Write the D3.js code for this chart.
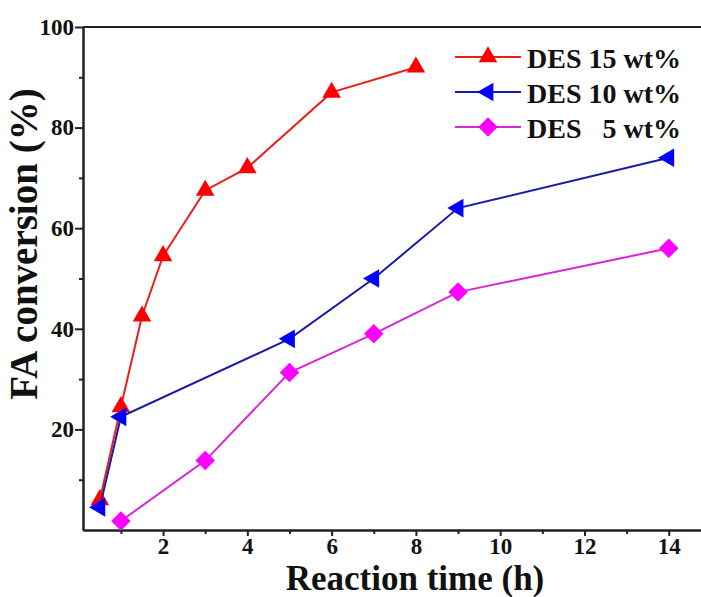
<!DOCTYPE html>
<html>
<head>
<meta charset="utf-8">
<script src="https://cdn.jsdelivr.net/npm/d3@7"></script>
<style>
  body { margin: 0; background: #fff; }
  text { font-family: "Liberation Serif", "Times New Roman", serif; font-weight: bold; }
</style>
</head>
<body>
<div id="container"></div>
<script>
/* DATA */
const seriesNames = ["DES 15 wt%", "DES 10 wt%", "DES\u00a0\u00a0\u00a05 wt%"];
const time15 = [0.5, 1, 1.5, 2, 3, 4, 6, 8];
const des15 = [6, 24.5, 42.5, 54.5, 67.5, 72, 87, 92];
const time10 = [0.5, 1, 5, 7, 9, 14];
const des10 = [4.5, 22.5, 38, 50, 64, 74];
const time5 = [1, 3, 5, 7, 9, 14];
const des5 = [1.8, 13.8, 31.3, 39, 47.3, 56];
const xTicks = [2, 4, 6, 8, 10, 12, 14];
const yTicks = [20, 40, 60, 80, 100];

/* CONSTANTS */
const width = 701;
const height = 597;
const marginLeft = 83, marginTop = 27, axisBottom = 530;

const series = [
  { name: seriesNames[0], x: time15, y: des15, line: "#e8201c", fill: "#ff0000", shape: "up" },
  { name: seriesNames[1], x: time10, y: des10, line: "#1a1aa6", fill: "#0000ff", shape: "left" },
  { name: seriesNames[2], x: time5, y: des5, line: "#d626d6", fill: "#ff00ff", shape: "diamond" }
];

/* SCALES */
const xScale = d3.scaleLinear().domain([0.1, 15]).range([marginLeft, marginLeft + 14.9 * 42.14]);
const yScale = d3.scaleLinear().domain([0, 100]).range([axisBottom, marginTop]);

const svg = d3.select("#container")
  .append("svg")
  .attr("width", width)
  .attr("height", height);

/* AXES */
const xAxis = d3.axisBottom(xScale)
  .tickValues(xTicks)
  .tickSize(6)
  .tickSizeOuter(0)
  .tickPadding(2);
const xMinor = d3.axisBottom(xScale)
  .tickValues(d3.range(1, 15, 2))
  .tickSize(4)
  .tickSizeOuter(0)
  .tickFormat("");

const yAxis = d3.axisLeft(yScale)
  .tickValues(yTicks)
  .tickSize(8)
  .tickSizeOuter(0)
  .tickPadding(1);
const yMinor = d3.axisLeft(yScale)
  .tickValues(d3.range(10, 100, 20))
  .tickSize(4)
  .tickSizeOuter(0)
  .tickFormat("");

const gx = svg.append("g").attr("transform", `translate(0,${axisBottom})`).call(xAxis);
const gxm = svg.append("g").attr("transform", `translate(0,${axisBottom})`).call(xMinor);
const gy = svg.append("g").attr("transform", `translate(${marginLeft},0)`).call(yAxis);
const gym = svg.append("g").attr("transform", `translate(${marginLeft},0)`).call(yMinor);
gxm.selectAll("text").remove();
gym.selectAll("text").remove();

svg.selectAll(".domain, .tick line").attr("stroke", "#222").attr("stroke-width", 2);
gx.selectAll(".tick text").attr("font-size", 23).attr("fill", "#111");
gy.selectAll(".tick text").attr("font-size", 23).attr("fill", "#111");

// top frame line
svg.append("line")
  .attr("x1", marginLeft).attr("x2", width)
  .attr("y1", yScale(100)).attr("y2", yScale(100))
  .attr("stroke", "#222").attr("stroke-width", 2);

/* TITLES */
svg.append("text")
  .attr("x", 415).attr("y", 590)
  .attr("text-anchor", "middle")
  .attr("font-size", 35)
  .attr("fill", "#111")
  .text("Reaction time (h)");

svg.append("text")
  .attr("transform", "translate(37,244) rotate(-90)")
  .attr("text-anchor", "middle")
  .attr("font-size", 39)
  .attr("fill", "#111")
  .text("FA conversion (%)");

/* MARKERS */
const tri = d3.symbol().type(d3.symbolTriangle).size(150);
const dia = d3.symbol().type(d3.symbolSquare).size(190);
function marker(sel, shape, fill) {
  if (shape === "diamond") {
    sel.append("path").attr("d", dia()).attr("transform", "rotate(45)").attr("fill", fill);
  } else if (shape === "left") {
    sel.append("path").attr("d", tri()).attr("transform", "rotate(-90)").attr("fill", fill);
  } else {
    sel.append("path").attr("d", tri()).attr("fill", fill);
  }
}

const line = d3.line().x(d => xScale(d[0])).y(d => yScale(d[1]));

series.forEach(s => {
  const pts = s.x.map((x, i) => [x, s.y[i]]);
  svg.append("path")
    .datum(pts)
    .attr("d", line)
    .attr("fill", "none")
    .attr("stroke", s.line)
    .attr("stroke-width", 2);
  svg.selectAll(null)
    .data(pts)
    .join("g")
    .attr("transform", d => `translate(${xScale(d[0])},${yScale(d[1])})`)
    .each(function () { marker(d3.select(this), s.shape, s.fill); });
});

/* LEGEND */
const legend = svg.append("g");
series.forEach((s, i) => {
  const cy = 57 + i * 35;
  const g = legend.append("g").attr("transform", `translate(0,${cy})`);
  g.append("line")
    .attr("x1", 455).attr("x2", 521)
    .attr("stroke", s.line).attr("stroke-width", 2);
  const m = g.append("g").attr("transform", "translate(488,0)");
  marker(m, s.shape, s.fill);
  g.append("text")
    .attr("x", 527).attr("y", 11)
    .attr("font-size", 28)
    .attr("fill", "#111")
    .text(s.name);
});
</script>
</body>
</html>
